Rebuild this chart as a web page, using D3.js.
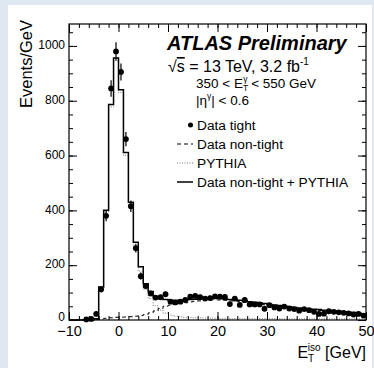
<!DOCTYPE html>
<html>
<head>
<meta charset="utf-8">
<script src="https://cdn.jsdelivr.net/npm/d3@7"></script>
<style>
  body { margin: 0; background: #dfe7f1; }
  svg { display: block; font-family: "Liberation Sans", Arial, sans-serif; }
</style>
</head>
<body>
<div id="plotDiv"></div>
<script>
// bins are 1 GeV wide, lower edges from -10 to 49
var binLow = d3.range(-10, 50);

// Data tight (points), null where no point drawn
var dataTight = [null, null, null, 2, 4, 22, 112, 380, 845, 980,
                 905, 660, 415, 262, 160, 124, 97, 82, 83, 94,
                 67, 64, 67, 73, 85, 88, 83, 78, 80, 86,
                 85, 84, 58, 78, 55, 73, 57, 57, 57, 41,
                 54, 46, 42, 49, 42, 40, 34, 40, 36, 30,
                 22, 23, 32, 30, 28, 26, 24, 20, 22, 16];
var dataErr = [0, 0, 0, 2, 3, 6, 12, 20, 30, 33,
               31, 26, 21, 16, 13, 11, 10, 9, 9, 10,
               8, 8, 8, 8, 9, 9, 9, 9, 9, 9,
               9, 9, 8, 9, 7, 8, 7, 7, 7, 6,
               7, 7, 6, 7, 6, 6, 6, 6, 6, 5,
               5, 5, 6, 5, 5, 5, 5, 4, 5, 4];

// Data non-tight (dashed)
var nonTight = [0, 0, 0, 0, 0, 2, 4, 6, 8, 10,
                10, 11, 12, 14, 16, 20, 26, 33, 42, 50,
                54, 57, 60, 63, 66, 68, 70, 72, 73, 74,
                73, 72, 70, 69, 67, 65, 62, 60, 58, 56,
                53, 51, 49, 47, 45, 43, 41, 39, 37, 36,
                35, 33, 32, 31, 29, 27, 25, 24, 22, 20];

// PYTHIA (dotted)
var pythia = [0, 0, 0, 0, 0, 3, 116, 394, 778, 946,
              830, 600, 418, 270, 178, 112, 78, 52, 36, 25,
              18, 14, 12, 10, 9, 8, 8, 7, 7, 6,
              6, 6, 5, 5, 5, 5, 5, 5, 5, 5,
              5, 5, 5, 4, 4, 4, 4, 4, 4, 4,
              4, 4, 4, 4, 4, 4, 4, 4, 4, 4];

// Data non-tight + PYTHIA (solid)
var combined = [0, 0, 0, 0, 0, 5, 120, 400, 786, 956,
                840, 611, 430, 284, 194, 132, 104, 85, 78, 75,
                72, 71, 72, 73, 75, 76, 78, 79, 80, 80,
                79, 77, 75, 74, 72, 70, 67, 65, 63, 60,
                57, 55, 53, 51, 48, 46, 44, 42, 40, 39,
                38, 36, 35, 34, 32, 30, 28, 27, 25, 22];

var xMajor = [-10, 0, 10, 20, 30, 40, 50];
var xMinor = d3.range(-10, 51, 2);
var yMajor = [0, 200, 400, 600, 800, 1000];
var yMinor = d3.range(0, 1081, 50);

var W = 374, H = 368;
var pL = 69, pR = 366, pT = 24, pB = 320;

var svg = d3.select("#plotDiv").append("svg")
    .attr("width", W).attr("height", H);

// white panel
svg.append("rect").attr("x", 8).attr("y", 5)
    .attr("width", 364).attr("height", 363).attr("fill", "#fff");

var x = d3.scaleLinear().domain([-10, 50]).range([pL, pR]);
var y = d3.scaleLinear().domain([0, 1080]).range([pB, pT]);

function stepLine(vals) {
    var pts = binLow.map(function(b, i) { return [b, vals[i]]; });
    pts.push([50, vals[vals.length - 1]]);
    return d3.line()
        .x(function(d) { return x(d[0]); })
        .y(function(d) { return y(d[1]); })
        .curve(d3.curveStepAfter)(pts);
}

var plot = svg.append("g");

plot.append("path").attr("d", stepLine(pythia))
    .attr("fill", "none").attr("stroke", "#777")
    .attr("stroke-width", 1).attr("stroke-dasharray", "1,1.5");
plot.append("path").attr("d", stepLine(nonTight))
    .attr("fill", "none").attr("stroke", "#000")
    .attr("stroke-width", 1).attr("stroke-dasharray", "4,3");
plot.append("path").attr("d", stepLine(combined))
    .attr("fill", "none").attr("stroke", "#000")
    .attr("stroke-width", 1.5);

var pts = binLow.map(function(b, i) { return { c: b + 0.5, v: dataTight[i], e: dataErr[i] }; })
    .filter(function(d) { return d.v !== null; });

plot.selectAll("line.err").data(pts).enter().append("line")
    .attr("class", "err")
    .attr("x1", function(d) { return x(d.c); })
    .attr("x2", function(d) { return x(d.c); })
    .attr("y1", function(d) { return y(d.v - d.e); })
    .attr("y2", function(d) { return y(d.v + d.e); })
    .attr("stroke", "#000").attr("stroke-width", 1.2);

plot.selectAll("circle.pt").data(pts).enter().append("circle")
    .attr("class", "pt")
    .attr("cx", function(d) { return x(d.c); })
    .attr("cy", function(d) { return y(d.v); })
    .attr("r", 2.9).attr("fill", "#000");

// axes, ticks pointing inward
function styleAxis(g) {
    g.select(".domain").remove();
    g.selectAll("line").attr("stroke", "#000");
}
svg.append("g").attr("transform", "translate(0," + pB + ")")
    .call(d3.axisBottom(x).tickValues(xMinor).tickSize(-4).tickFormat(""))
    .call(styleAxis);
svg.append("g").attr("transform", "translate(0," + pB + ")")
    .call(d3.axisBottom(x).tickValues(xMajor).tickSize(-8).tickPadding(6))
    .call(styleAxis)
    .selectAll("text").attr("font-size", 14.5).attr("fill", "#000")
    .attr("font-family", "Liberation Sans, Arial, sans-serif");
svg.append("g").attr("transform", "translate(0," + pT + ")")
    .call(d3.axisTop(x).tickValues(xMinor).tickSize(-4).tickFormat(""))
    .call(styleAxis);
svg.append("g").attr("transform", "translate(0," + pT + ")")
    .call(d3.axisTop(x).tickValues(xMajor).tickSize(-8).tickFormat(""))
    .call(styleAxis);

svg.append("g").attr("transform", "translate(" + pL + ",0)")
    .call(d3.axisLeft(y).tickValues(yMinor).tickSize(-4).tickFormat(""))
    .call(styleAxis);
svg.append("g").attr("transform", "translate(" + pL + ",0)")
    .call(d3.axisLeft(y).tickValues(yMajor).tickSize(-8).tickPadding(4).tickFormat(d3.format("d")))
    .call(styleAxis)
    .selectAll("text").attr("font-size", 12).attr("fill", "#000")
    .attr("dy", function(d) { return d === 0 ? "0.05em" : "0.22em"; })
    .attr("font-family", "Liberation Sans, Arial, sans-serif");
svg.append("g").attr("transform", "translate(" + pR + ",0)")
    .call(d3.axisRight(y).tickValues(yMinor).tickSize(-4).tickFormat(""))
    .call(styleAxis);
svg.append("g").attr("transform", "translate(" + pR + ",0)")
    .call(d3.axisRight(y).tickValues(yMajor).tickSize(-8).tickFormat(""))
    .call(styleAxis);

svg.append("rect").attr("x", pL).attr("y", pT)
    .attr("width", pR - pL).attr("height", pB - pT)
    .attr("fill", "none").attr("stroke", "#000").attr("stroke-width", 1.2);

// axis titles
svg.append("text")
    .attr("transform", "translate(32,20) rotate(-90)")
    .attr("text-anchor", "end").attr("font-size", 16.5)
    .text("Events/GeV");

var xt = svg.append("text").attr("x", pR).attr("y", 358)
    .attr("text-anchor", "end").attr("font-size", 16);
xt.append("tspan").text("E");
xt.append("tspan").attr("font-size", 10).attr("dy", 4).text("T");
xt.append("tspan").attr("font-size", 10).attr("dx", -6).attr("dy", -11).text("iso");
xt.append("tspan").attr("dy", 7).text(" [GeV]");

// labels
svg.append("text").attr("x", 167).attr("y", 50)
    .attr("font-size", 20).attr("font-weight", "bold").attr("font-style", "italic")
    .text("ATLAS Preliminary");

var t1 = svg.append("text").attr("x", 168).attr("y", 72).attr("font-size", 16);
t1.append("tspan").text("√");
t1.append("tspan").style("text-decoration", "overline").text("s");
t1.append("tspan").text(" = 13 TeV, 3.2 fb");
t1.append("tspan").attr("font-size", 10).attr("dy", -7).text("-1");

var t2 = svg.append("text").attr("x", 196).attr("y", 88).attr("font-size", 13.5);
t2.append("tspan").text("350 < E");
t2.append("tspan").attr("font-size", 8.5).attr("dy", 3).text("T");
t2.append("tspan").attr("font-size", 8.5).attr("dx", -5).attr("dy", -9).text("γ");
t2.append("tspan").attr("dy", 6).text(" < 550 GeV");

var t3 = svg.append("text").attr("x", 196).attr("y", 105).attr("font-size", 13.5);
t3.append("tspan").text("|η");
t3.append("tspan").attr("font-size", 8.5).attr("dy", -6).text("γ");
t3.append("tspan").attr("dy", 6).text("| < 0.6");

// legend
var legNames = ["Data tight", "Data non-tight", "PYTHIA", "Data non-tight + PYTHIA"];
var legY = [130, 149, 168, 187];
legNames.forEach(function(name, i) {
    svg.append("text").attr("x", 197).attr("y", legY[i])
        .attr("font-size", 13.7).text(name);
});
svg.append("circle").attr("cx", 190.5).attr("cy", legY[0] - 5).attr("r", 2.5).attr("fill", "#000");
svg.append("line").attr("x1", 177).attr("x2", 193).attr("y1", legY[1] - 5).attr("y2", legY[1] - 5)
    .attr("stroke", "#000").attr("stroke-dasharray", "4,3");
svg.append("line").attr("x1", 177).attr("x2", 193).attr("y1", legY[2] - 5).attr("y2", legY[2] - 5)
    .attr("stroke", "#777").attr("stroke-dasharray", "1,1.5");
svg.append("line").attr("x1", 177).attr("x2", 193).attr("y1", legY[3] - 5).attr("y2", legY[3] - 5)
    .attr("stroke", "#000").attr("stroke-width", 1.5);
</script>
</body>
</html>
